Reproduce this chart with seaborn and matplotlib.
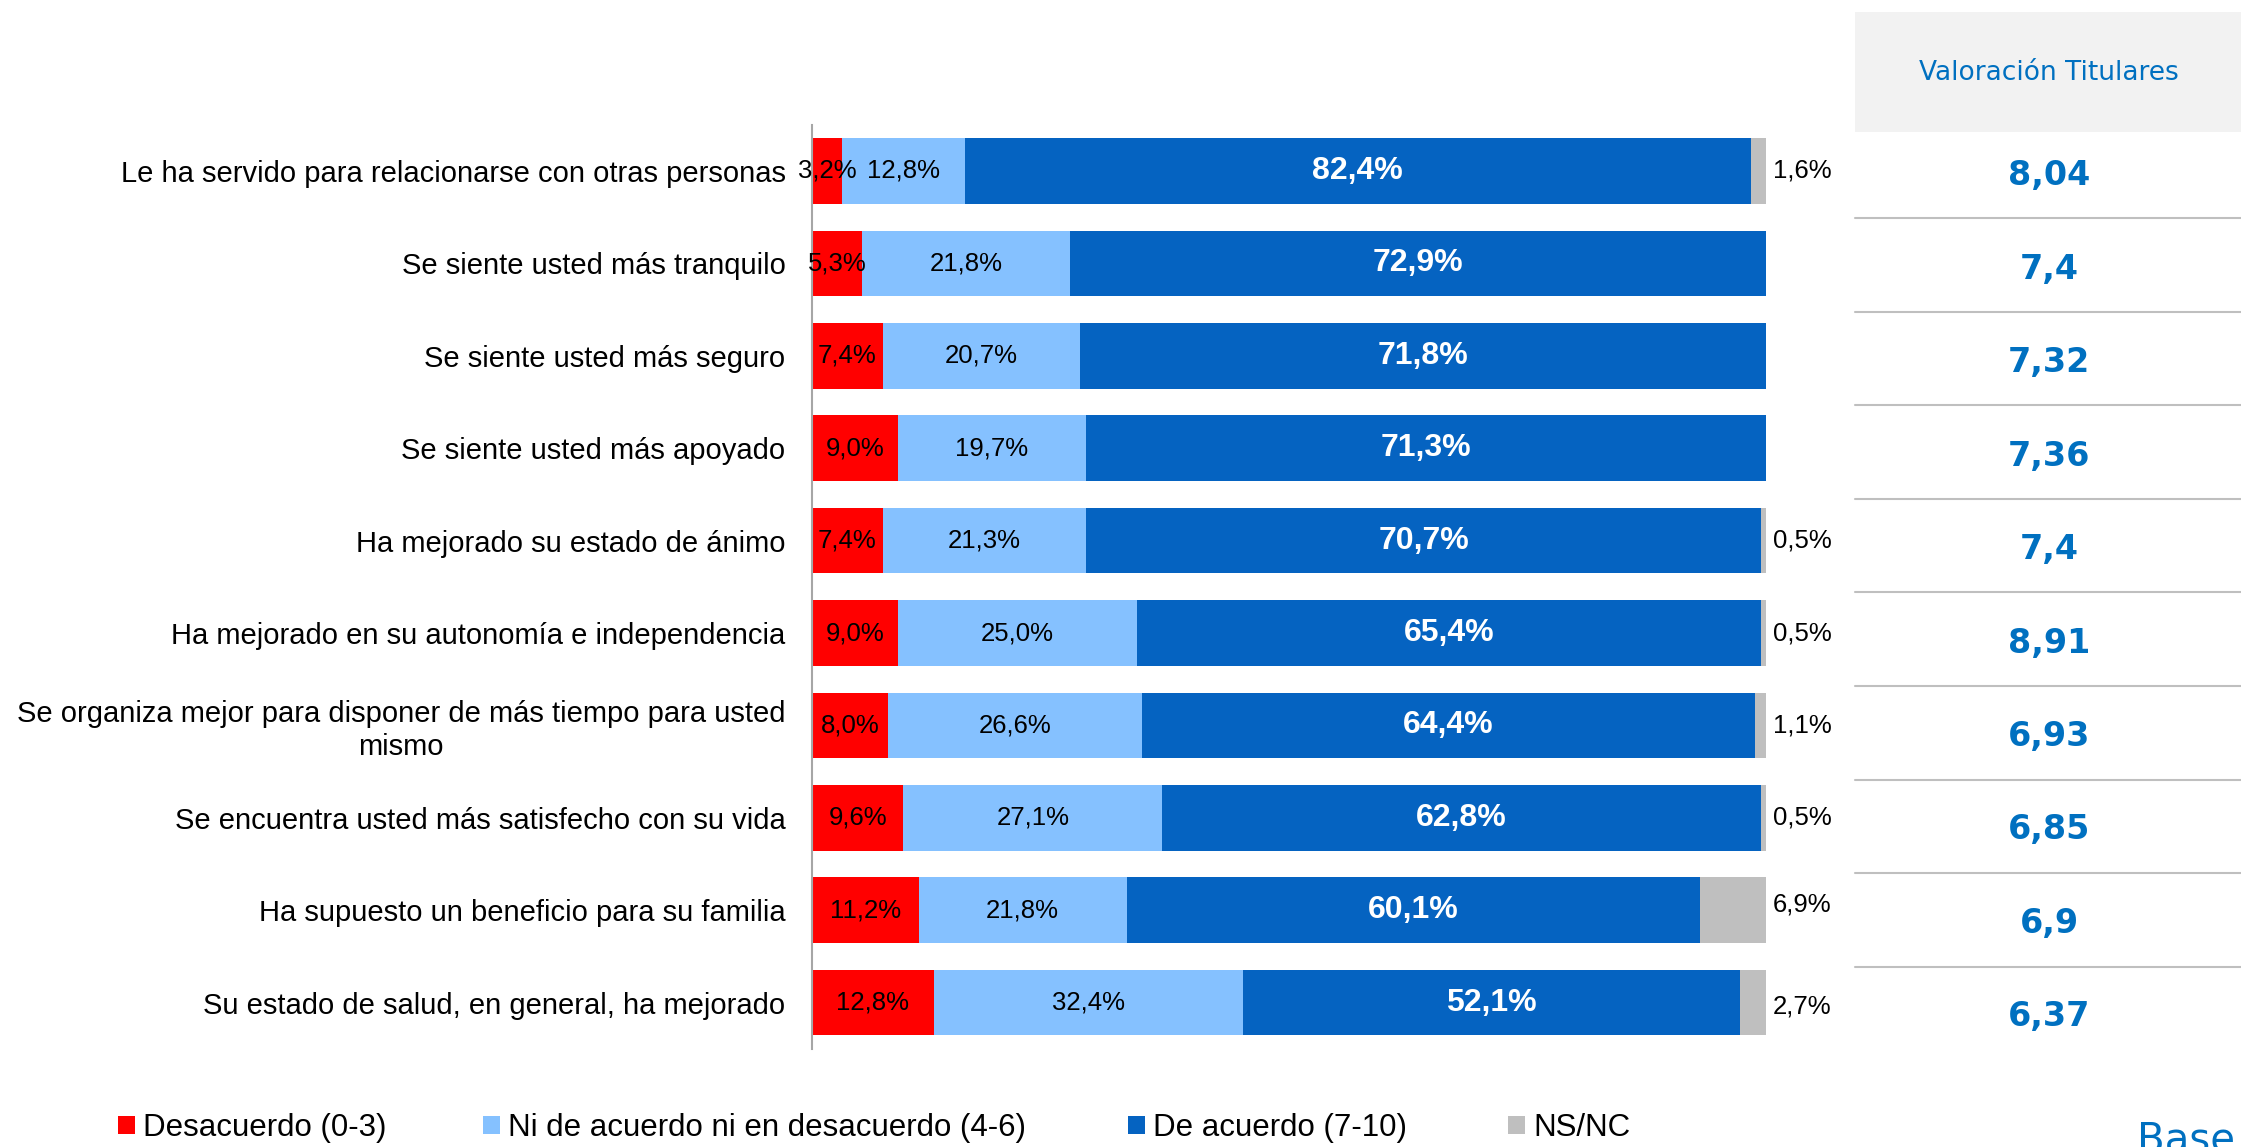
"""Valoración de efectos del servicio - barras apiladas al 100%"""

# Data processing
import numpy as np
import pandas as pd

# Data visualization
import matplotlib
matplotlib.use("Agg")
import matplotlib.pyplot as plt
import seaborn as sns
from matplotlib.patches import Patch, Rectangle
from matplotlib.lines import Line2D

# Data
items = [
    "Le ha servido para relacionarse con otras personas",
    "Se siente usted más tranquilo",
    "Se siente usted más seguro",
    "Se siente usted más apoyado",
    "Ha mejorado su estado de ánimo",
    "Ha mejorado en su autonomía e independencia",
    "Se organiza mejor para disponer de más tiempo para usted\nmismo",
    "Se encuentra usted más satisfecho con su vida",
    "Ha supuesto un beneficio para su familia",
    "Su estado de salud, en general, ha mejorado",
]
desacuerdo = [3.2, 5.3, 7.4, 9.0, 7.4, 9.0, 8.0, 9.6, 11.2, 12.8]
neutral = [12.8, 21.8, 20.7, 19.7, 21.3, 25.0, 26.6, 27.1, 21.8, 32.4]
acuerdo = [82.4, 72.9, 71.8, 71.3, 70.7, 65.4, 64.4, 62.8, 60.1, 52.1]
nsnc = [1.6, 0.0, 0.0, 0.0, 0.5, 0.5, 1.1, 0.5, 6.9, 2.7]
valoracion = ["8,04", "7,4", "7,32", "7,36", "7,4", "8,91", "6,93", "6,85", "6,9", "6,37"]

series_names = ["Desacuerdo (0-3)", "Ni de acuerdo ni en desacuerdo (4-6)", "De acuerdo (7-10)", "NS/NC"]
series_colors = ["#FF0000", "#85C1FF", "#0563C1", "#BFBFBF"]

# Style
sns.set_theme(style="white")
plt.rcParams['font.family'] = ['Liberation Sans', 'DejaVu Sans']
plt.rcParams['text.color'] = 'black'
plt.rcParams['ytick.color'] = 'black'
blue_txt = "#0070C0"

# Dataframe + 100% stacked shares
df = pd.DataFrame({"item": items})
for name, vals in zip(series_names, [desacuerdo, neutral, acuerdo, nsnc]):
    df[name] = vals
shares = df[series_names].div(df[series_names].sum(axis=1), axis=0) * 100
cum = shares.cumsum(axis=1)
cum["item"] = items

fig = plt.figure(figsize=(22.41, 11.47), dpi=100)
ax = fig.add_axes([0.3623, 0.0856, 0.4257, 0.8056])

# Stacked bars: draw cumulative totals from the last series to the first
for name, color in reversed(list(zip(series_names, series_colors))):
    sns.barplot(data=cum, x=name, y="item", orient="h", color=color, saturation=1,
                width=0.71, linewidth=0, errorbar=None, ax=ax)

# Segment labels
def fmt(v):
    return f"{v:.1f}".replace(".", ",") + "%"

# small vertical nudges (points) of the outside NS/NC labels, as in the original
nsnc_nudge = {8: 4, 9: -3}

for i in range(len(items)):
    left = 0
    for name in series_names:
        v = df.loc[i, name]
        w = shares.loc[i, name]
        if name == "NS/NC":
            if v > 0:
                ax.annotate(fmt(v), xy=(100, i), xytext=(5, nsnc_nudge.get(i, 0)),
                            textcoords="offset points", ha="left", va="center",
                            fontsize=18.5, color="black")
        elif name == "De acuerdo (7-10)":
            ax.text(left + w / 2, i, fmt(v), ha="center", va="center", fontsize=23,
                    fontweight="bold", color="white")
        else:
            ax.text(left + w / 2, i, fmt(v), ha="center", va="center", fontsize=18.5, color="black")
        left += w

ax.set_xlim(0, 100)
ax.set_ylim(9.5, -0.5)
ax.set_xticks([])
ax.set_xlabel("")
ax.set_ylabel("")
ax.tick_params(axis="y", length=0, pad=19, labelsize=21, labelcolor="black")
for lbl in ax.get_yticklabels():
    lbl.set_multialignment("center")
for side in ["top", "right", "bottom"]:
    ax.spines[side].set_visible(False)
ax.spines["left"].set_color("#A6A6A6")
ax.spines["left"].set_linewidth(1.5)

# Side table "Valoración Titulares"
tx0 = 1855 / 2241
tcx = 2049 / 2241
fig.add_artist(Rectangle((tx0, 1 - 132 / 1147), 1 - tx0, 120 / 1147, transform=fig.transFigure,
                         facecolor="#F2F2F2", edgecolor="none"))
fig.text(tcx, 1 - 73 / 1147, "Valoración Titulares", ha="center", va="center",
         color=blue_txt, fontsize=19, family="DejaVu Sans")
for i, v in enumerate(valoracion):
    fig.text(tcx, 1 - (176 + 93.4 * i) / 1147, v, ha="center", va="center",
             color=blue_txt, fontsize=24, fontweight="bold", family="DejaVu Sans")
for k in range(len(items) - 1):
    y = 1 - (218 + 93.6 * k) / 1147
    fig.add_artist(Line2D([tx0, 1], [y, y], transform=fig.transFigure, color="#BFBFBF", lw=1.5))

# Cut-off footer text
fig.text(2137 / 2241, -0.0035, "Base", ha="left", va="baseline", color=blue_txt,
         fontsize=29, family="DejaVu Sans")

# Legend, one entry at a time to keep the original spacing
legend_x = [118 / 2241, 483 / 2241, 1128 / 2241, 1508 / 2241]
for name, color, lx in zip(series_names, series_colors, legend_x):
    fig.legend(handles=[Patch(facecolor=color, edgecolor="none", label=name)],
               loc="center left", bbox_to_anchor=(lx, 1 - 1128 / 1147), frameon=False,
               fontsize=22.5, handlelength=0.54, handleheight=0.54, handletextpad=0.26,
               borderpad=0, borderaxespad=0)

fig.savefig("out.png", dpi=100)
